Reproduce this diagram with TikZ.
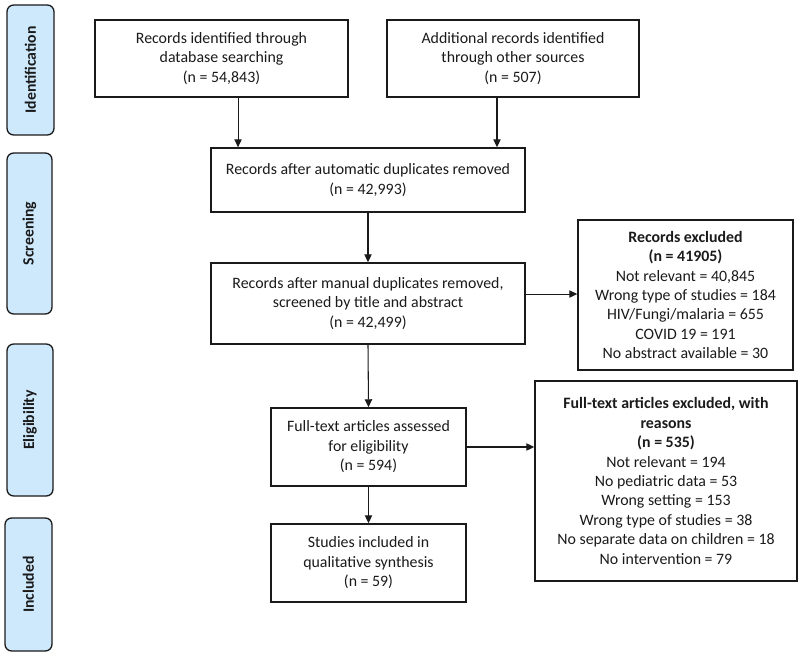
\documentclass[tikz,border=0pt]{standalone}
\usepackage{fontspec}
\setmainfont{Carlito}
\usetikzlibrary{arrows.meta}
\definecolor{sideblue}{HTML}{CFE9FC}
\definecolor{ink}{HTML}{1A1A1A}
\begin{document}
\begin{tikzpicture}[x=0.75pt,y=-0.75pt,
  box/.style={draw=ink,line width=1.1pt,align=center,inner sep=0pt,text=ink,
    font=\fontsize{11.9}{14.6}\selectfont},
  side/.style={draw=ink,line width=1pt,fill=sideblue,rounded corners=5pt,inner sep=0pt,
    rotate=90,text=ink,font=\bfseries\fontsize{11.8}{12}\selectfont},
  arr/.style={draw=ink,line width=0.8pt,-{Triangle[length=6pt,width=5.5pt]}}]
\useasboundingbox (0,0) rectangle (800,656);
% side labels
\node[side,minimum width={130*0.75pt},minimum height={47*0.75pt}] (sid) at (30.5,70) {Identification};
\node[side,minimum width={161*0.75pt},minimum height={45*0.75pt}] (sscr) at (29.5,233.5) {Screening};
\node[side,minimum width={152*0.75pt},minimum height={46*0.75pt}] (selig) at (30,420) {Eligibility};
\node[side,minimum width={133*0.75pt},minimum height={47*0.75pt}] (sinc) at (28.5,584.5) {Included};
% boxes
\node[box,minimum width={253*0.75pt},minimum height={77*0.75pt}] (b1) at (221.5,58.5)
  {Records identified through\\database searching\\(n = 54,843)};
\node[box,minimum width={252*0.75pt},minimum height={77*0.75pt}] (b2) at (513,58.5)
  {Additional records identified\\through other sources\\(n = 507)};
\node[box,minimum width={314*0.75pt},minimum height={64*0.75pt}] (b3) at (368,180)
  {Records after automatic duplicates removed\\(n = 42,993)};
\node[box,minimum width={314*0.75pt},minimum height={81*0.75pt}] (b4) at (368,303.5)
  {Records after manual duplicates removed,\\screened by title and abstract\\(n = 42,499)};
\node[box,minimum width={215*0.75pt},minimum height={150*0.75pt}] (ex1) at (685.5,295)
  {\textbf{Records excluded}\\\textbf{(n = 41905)}\\Not relevant = 40,845\\Wrong type of studies = 184\\HIV/Fungi/malaria = 655\\COVID 19 = 191\\No abstract available = 30};
\node[box,minimum width={195*0.75pt},minimum height={78*0.75pt}] (b5) at (368.5,447)
  {Full-text articles assessed\\for eligibility\\(n = 594)};
\node[box,minimum width={262*0.75pt},minimum height={200*0.75pt}] (ex2) at (666,481)
  {\textbf{Full-text articles excluded, with}\\\textbf{reasons}\\\textbf{(n = 535)}\\Not relevant = 194\\No pediatric data = 53\\Wrong setting = 153\\Wrong type of studies = 38\\No separate data on children = 18\\No intervention = 79};
\node[box,minimum width={195*0.75pt},minimum height={78*0.75pt}] (b6) at (368.5,563)
  {Studies included in\\qualitative synthesis\\(n = 59)};
% connectors
\draw[arr] ([xshift=12.4pt]b1.south) -- ([xshift=12.4pt]b1.south |- b3.north);
\draw[arr] ([xshift=-12pt]b2.south) -- ([xshift=-12pt]b2.south |- b3.north);
\draw[arr] (b3.south) -- (b4.north);
\draw[arr] ([yshift=7.1pt]b4.east) -- ([yshift=7.1pt]b4.east -| ex1.west);
\draw[arr] (b4.south) -- (b5.north);
\draw[arr] (b5.east) -- (b5.east -| ex2.west);
\draw[arr] (b5.south) -- (b6.north);
\end{tikzpicture}
\end{document}
